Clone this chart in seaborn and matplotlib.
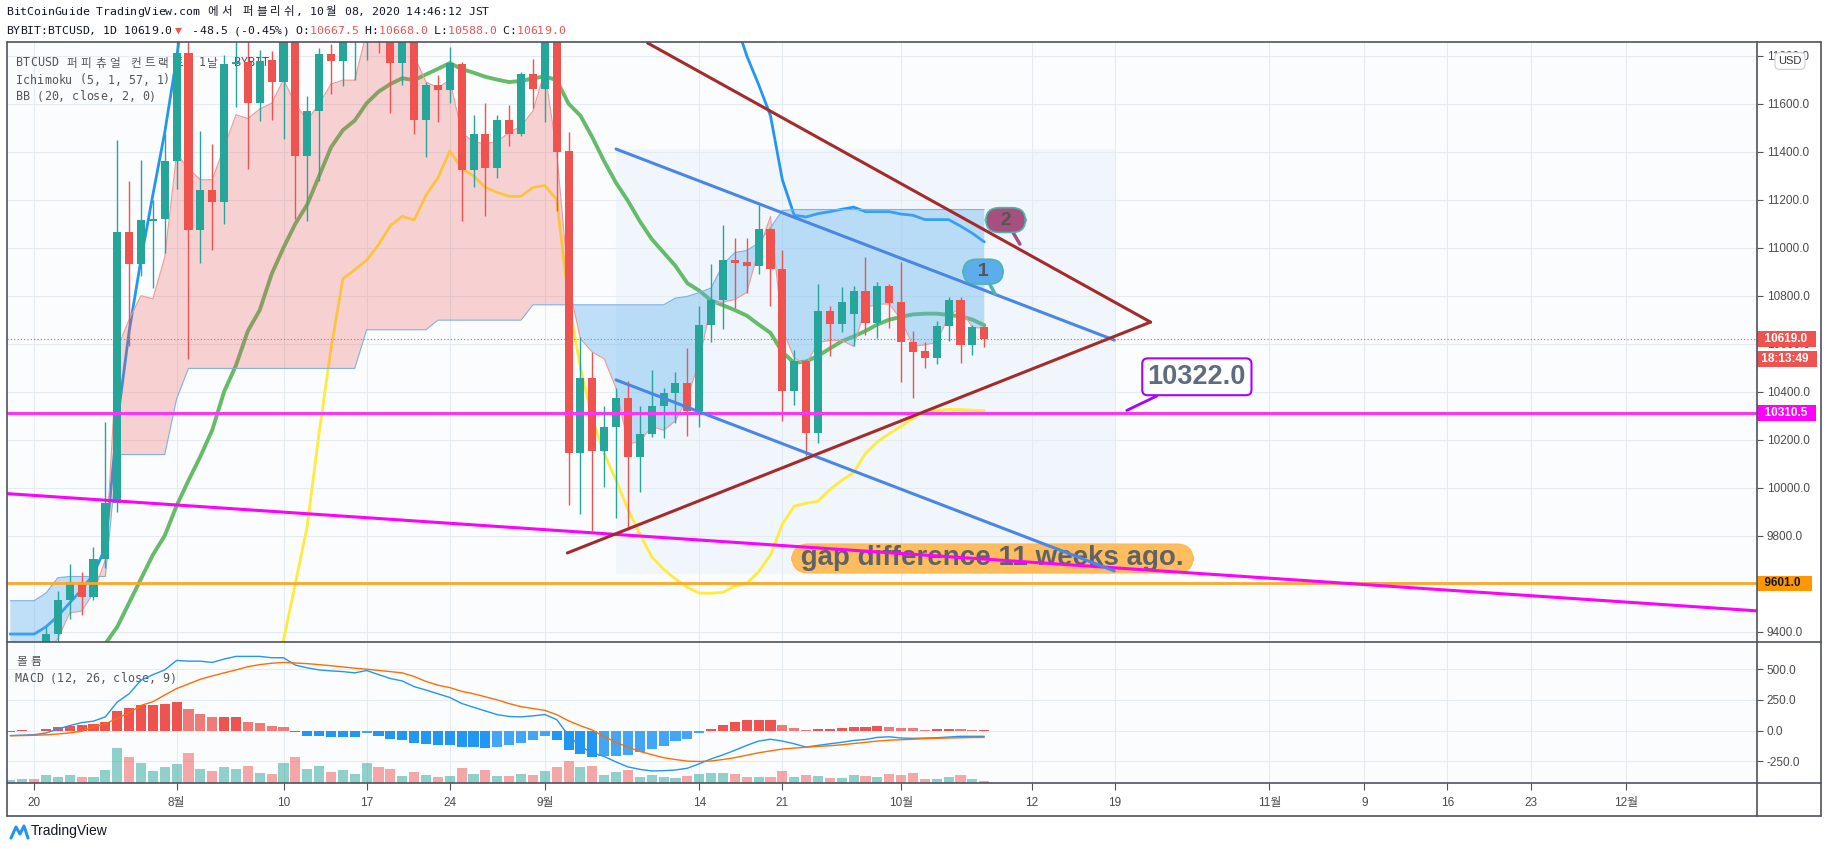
import matplotlib
matplotlib.use("Agg")
import matplotlib.pyplot as plt
from matplotlib.lines import Line2D
import numpy as np
import seaborn as sns

# ---------------- values (day 0 = 2020-07-20) ----------------
days = list(range(-2, 81))

opens = [9150, 9175, 9215, 9165, 9390, 9534, 9607, 9543, 9703, 9936, 11065, 10932,
         11110, 11120, 11363, 11810, 11072, 11240, 11192, 11765, 11775, 11602,
         11782, 11690, 11890, 11383, 11568, 11809, 11776, 11880, 11920, 12290,
         11960, 11770, 11870, 11533, 11677, 11658, 11765, 11323, 11473, 11332,
         11533, 11473, 11725, 11661, 11930, 11403, 10146, 10457, 10154, 10251,
         10372, 10127, 10223, 10341, 10393, 10438, 10321, 10677, 10781, 10948,
         10940, 10924, 11077, 10913, 10401, 10526, 10229, 10736, 10682, 10725,
         10821, 10688, 10840, 10773, 10608, 10569, 10541, 10672, 10784, 10596, 10667.5]
highs = [9190, 9240, 9230, 9420, 9570, 9684, 9648, 9752, 10274, 11447, 11278, 11367,
         11198, 11474, 12080, 12050, 11485, 11431, 11801, 11900, 11910, 11825,
         11820, 12080, 12050, 11631, 11833, 11849, 11980, 12000, 12460, 12400,
         12020, 11900, 11890, 11690, 11718, 11836, 11774, 11551, 11602, 11551,
         11594, 11733, 11788, 12080, 11950, 11482, 10629, 10565, 10342, 10414,
         10443, 10342, 10490, 10414, 10481, 10581, 10757, 10932, 11096, 11042,
         11042, 11176, 11080, 10991, 10573, 10530, 10848, 10757, 10837, 10841,
         10961, 10857, 10849, 10940, 10653, 10605, 10693, 10793, 10793, 10677, 10668]
lows = [9090, 9120, 9140, 9150, 9300, 9454, 9470, 9534, 9664, 9900, 10589, 10880,
        10832, 10977, 11246, 10537, 10937, 10991, 11100, 11586, 11328, 11527,
        11533, 11454, 11120, 11112, 11278, 11642, 11674, 11700, 11780, 11810,
        11562, 11677, 11473, 11379, 11525, 11602, 11112, 11254, 11131, 11291,
        11423, 11466, 11581, 11525, 11154, 9928, 9891, 9821, 10004, 9875,
        9832, 9983, 10213, 10207, 10270, 10215, 10251, 10608, 10661, 10749,
        10813, 10889, 10757, 10278, 10345, 10130, 10187, 10549, 10650, 10589,
        10637, 10624, 10664, 10441, 10374, 10497, 10516, 10613, 10521, 10554, 10588]
closes = [9175, 9215, 9165, 9390, 9534, 9607, 9543, 9703, 9936, 11065, 10932, 11115,
          11120, 11363, 11810, 11072, 11240, 11192, 11765, 11775, 11602, 11777,
          11690, 11890, 11383, 11568, 11809, 11776, 11880, 11920, 12290, 11960,
          11770, 11870, 11533, 11677, 11658, 11769, 11323, 11473, 11332, 11533,
          11473, 11725, 11661, 11930, 11399, 10146, 10457, 10154, 10251, 10372,
          10127, 10223, 10341, 10393, 10438, 10321, 10677, 10781, 10948, 10937,
          10924, 11077, 10913, 10401, 10526, 10229, 10736, 10682, 10773, 10821,
          10688, 10840, 10768, 10608, 10565, 10541, 10672, 10784, 10596, 10669, 10619]
volumes = [3.3, 4.3, 4.3, 8.3, 6.3, 8.3, 6.3, 6.3, 13.3, 35.3, 26.3, 20.3,
           12.3, 16.3, 19.3, 30.3, 14.3, 12.3, 16.3, 14.3, 17.3, 10.3,
           9.3, 20.3, 26.3, 14.3, 17.3, 11.3, 13.3, 9.3, 20.3, 16.3,
           14.3, 7.3, 11.3, 8.3, 6.3, 7.3, 15.3, 9.3, 13.3, 7.3,
           7, 9, 8, 12, 16, 22, 16, 17, 8, 11,
           13, 6, 8, 6, 5, 7, 9, 10, 10, 9,
           6, 6, 6, 12, 6, 8, 7, 5, 5, 8,
           7, 6, 9, 8, 10, 4, 4, 6, 8, 4, 2]

# Ichimoku leading spans
span_a = [9250, 9260, 9280, 9320, 9370, 9478, 9486, 9560, 9700, 10580, 10700, 10800,
          10787, 10960, 11390, 11330, 11283, 11283, 11420, 11554, 11538, 11578,
          11602, 11700, 11600, 11530, 11600, 11682, 11698, 11698, 11900, 12000,
          12000, 11950, 11800, 11690, 11666, 11700, 11480, 11440, 11434, 11442,
          11480, 11506, 11570, 11737, 11400, 10850, 10620, 10565, 10537, 10414,
          10183, 10191, 10255, 10239, 10278, 10374, 10526, 10765, 10773, 10784,
          10813, 10988, 11130, 10660, 10541, 10513, 10605, 10613, 10613, 10589,
          10749, 10765, 10765, 10701, 10589, 10595, 10605, 10717, 10749, 10666, 10666]
span_b = [9529, 9529, 9529, 9561, 9625, 9630, 9630, 9630, 9630, 10138, 10138, 10138,
          10138, 10138, 10370, 10497, 10497, 10497, 10497, 10497, 10497, 10497,
          10497, 10497, 10497, 10497, 10497, 10497, 10497, 10497, 10658, 10658,
          10658, 10658, 10658, 10658, 10698, 10698, 10698, 10698, 10698, 10698,
          10698, 10698, 10762, 10762, 10762, 10762, 10762, 10762, 10762, 10762,
          10762, 10762, 10762, 10762, 10790, 10797, 10813, 10832, 10930, 10980,
          10988, 11020, 11084, 11155, 11159, 11159, 11159, 11159, 11159, 11159,
          11159, 11159, 11159, 11159, 11159, 11159, 11159, 11159, 11159, 11159, 11159]

# Bollinger bands (20, 2)
bb_upper = [9390, 9390, 9390, 9420, 9465, 9520, 9575, 9640, 9750, 10270, 10650, 10950,
            11220, 11480, 11790, 12150, 12300, 12350, 12400, 12420, 12450, 12450,
            12440, 12430, 12400, 12380, 12380, 12360, 12330, 12320, 12400, 12450,
            12450, 12420, 12400, 12380, 12330, 12300, 12290, 12280, 12260, 12240,
            12220, 12230, 12240, 12280, 12270, 12350, 12380, 12390, 12350, 12320,
            12300, 12280, 12250, 12200, 12180, 12150, 12100, 12050, 12000, 11950,
            11800, 11680, 11550, 11283, 11135, 11128, 11142, 11150, 11160, 11169,
            11150, 11150, 11150, 11140, 11135, 11117, 11117, 11117, 11090, 11060, 11024]
bb_basis = [9050, 9080, 9110, 9140, 9180, 9220, 9260, 9290, 9350, 9420, 9520, 9620,
            9720, 9800, 9925, 10030, 10130, 10240, 10400, 10510, 10653, 10740,
            10890, 11000, 11100, 11180, 11299, 11418, 11490, 11530, 11602, 11650,
            11682, 11706, 11698, 11722, 11745, 11769, 11745, 11729, 11712, 11700,
            11690, 11695, 11705, 11714, 11698, 11600, 11550, 11460, 11360, 11270,
            11195, 11110, 11036, 10980, 10924, 10852, 10821, 10780, 10760, 10740,
            10717, 10680, 10645, 10565, 10520, 10526, 10549, 10580, 10610, 10630,
            10653, 10680, 10700, 10712, 10722, 10725, 10725, 10720, 10714, 10700, 10677]
bb_lower = [8850, 8840, 8830, 8800, 8780, 8760, 8740, 8720, 8700, 8650, 8600, 8580,
            8590, 8600, 8620, 8650, 8700, 8750, 8800, 8870, 8950, 9030,
            9120, 9365, 9601, 9840, 10230, 10580, 10870, 10908, 10948, 11012,
            11092, 11131, 11115, 11219, 11291, 11403, 11331, 11299, 11251, 11230,
            11214, 11214, 11251, 11259, 11200, 10781, 10500, 10286, 10143, 10031,
            9910, 9808, 9712, 9660, 9620, 9585, 9561, 9560, 9564, 9590,
            9601, 9649, 9720, 9848, 9923, 9935, 9944, 9992, 10030, 10063,
            10143, 10191, 10225, 10255, 10290, 10318, 10322, 10326, 10325, 10323, 10321]

# MACD (12, 26, 9)
macd_line = [-41, -37, -33, -19, 12, 41, 65, 77, 112, 232, 300, 410,
             455, 494, 571, 565, 565, 555, 582, 604, 604, 604,
             593, 593, 533, 511, 494, 486, 480, 470, 489, 456,
             424, 404, 358, 330, 300, 270, 221, 190, 160, 130,
             115, 112, 120, 131, 90, -40, -130, -180, -210, -255,
             -295, -315, -328, -326, -320, -306, -270, -230, -197, -160,
             -120, -85, -70, -85, -107, -134, -120, -107, -95, -80,
             -72, -55, -50, -60, -63, -60, -58, -52, -46, -46, -46]
macd_signal = [-41, -40, -38, -34, -28, -18, -6, 30, 55, 100, 145, 205,
               235, 290, 342, 380, 418, 445, 470, 494, 520, 537,
               548, 555, 550, 545, 537, 528, 518, 508, 500, 490,
               480, 470, 440, 400, 370, 350, 320, 300, 275, 250,
               220, 195, 180, 165, 130, 80, 40, 5, -50, -95,
               -135, -169, -195, -220, -235, -248, -251, -247, -235, -220,
               -200, -180, -165, -150, -142, -135, -128, -123, -115, -105,
               -95, -85, -78, -74, -70, -66, -63, -60, -58, -56, -55]
macd_hist = [-14, 3, -3, 11, 33, 41, 49, 57, 74, 158, 188, 205,
             205, 213, 230, 180, 139, 107, 107, 107, 74, 66,
             41, 33, -11, -41, -41, -49, -49, -49, -22, -41,
             -66, -74, -98, -107, -115, -115, -131, -131, -139, -131,
             -115, -98, -74, -46, -80, -156, -189, -216, -210, -205,
             -195, -172, -148, -123, -82, -66, -22, 14, 49, 68,
             84, 90, 90, 49, 22, 2, 14, 16, 25, 30,
             30, 38, 30, 22, 19, 8, 16, 16, 11, 8, 8]

# drawings on the chart
channel_days = [49.0, 90.95]
channel_upper = [11411, 10615]
channel_lower = [10449, 9653]
tri_upper_days = [51.65, 94.0]
tri_upper = [11853, 10690]
tri_lower_days = [44.9, 94.0]
tri_lower = [9728, 10690]
slope_days = [-2.2, 145.6]
slope_prices = [9975, 9485]
box_days = [49, 91]
box_low, box_high = 9640, 11411
level_magenta = 10310.5
level_orange = 9601.0
last_price = 10619.0

price_ticks = [9400, 9600, 9800, 10000, 10200, 10400, 10600, 10800, 11000, 11200, 11400, 11600, 11800]
macd_ticks = [-250, 0, 250, 500]
tick_days = [0, 12, 21, 28, 35, 43, 56, 63, 73, 84, 91, 104, 112, 119, 126, 134]
tick_labels = ['20', '8월', '10', '17', '24', '9월', '14', '21', '10월', '12', '19',
               '11월', '9', '16', '23', '12월']

# ---------------- style ----------------
sns.set_theme(style="white")
plt.rcParams['font.family'] = ['Liberation Sans', 'Noto Sans CJK KR', 'DejaVu Sans']
plt.rcParams['axes.unicode_minus'] = False
MONO = ['DejaVu Sans Mono', 'Noto Sans CJK KR']
UP, DOWN = '#26a69a', '#ef5350'
GRID = '#e4ecf2'
FRAME = '#50535e'
BG = '#fbfcfe'

W, H = 1828, 849
def fx(px): return px / W
def fy(py): return 1 - py / H

fig = plt.figure(figsize=(W / 100, H / 100), dpi=100, facecolor='white')
ax = fig.add_axes([fx(7), fy(642), fx(1757) - fx(7), fy(42) - fy(642)])
axm = fig.add_axes([fx(7), fy(783), fx(1757) - fx(7), fy(642) - fy(783)], sharex=ax)
axv = axm.twinx()


def mono_text(put, x0, y, segments, size, **kw):
    # monospace layout: latin = 1 cell, hangul = 2 cells
    cw = 0.602 * size * 100 / 72
    cell = 0
    for txt, col in segments:
        for ch in txt:
            wide = ord(ch) >= 0x1100
            if ch != ' ':
                if wide:
                    put(fx(x0 + (cell + 1) * cw), fy(y), ch, family=MONO, fontsize=size,
                        color=col, va='center', ha='center', **kw)
                else:
                    put(fx(x0 + cell * cw), fy(y), ch, family=MONO, fontsize=size,
                        color=col, va='center', ha='left', **kw)
            cell += 2 if wide else 1


d = np.array(days)
o = np.array(opens)
c = np.array(closes)
up = c >= o
cc = np.where(up, UP, DOWN)

# ---------------- main pane ----------------
ax.set_facecolor(BG)
ax.fill_between(box_days, box_low, box_high, color='#dcebf8', alpha=0.35, lw=0, zorder=0.5)

sns.lineplot(x=days, y=bb_upper, ax=ax, color='#2196f3', linewidth=2.0, zorder=2)
sns.lineplot(x=days, y=bb_basis, ax=ax, color='#66bb6a', linewidth=2.8, zorder=2)
sns.lineplot(x=days, y=bb_lower, ax=ax, color='#ffeb3b', linewidth=2.0, zorder=2)

a = np.array(span_a)
b = np.array(span_b)
ax.fill_between(d, a, b, where=a >= b, interpolate=True, color='#ef5350', alpha=0.25, lw=0, zorder=3)
ax.fill_between(d, a, b, where=a < b, interpolate=True, color='#5fb0f0', alpha=0.38, lw=0, zorder=3)
ax.plot(d, a, color='#ef9a9a', lw=0.8, zorder=3.1)
ax.plot(d, b, color='#7fb1e3', lw=0.8, zorder=3.1)

ax.vlines(d, lows, highs, color=cc, lw=1.0, zorder=3.9)
ax.bar(d, np.maximum(np.abs(c - o), 6), bottom=np.minimum(o, c), width=0.68,
       color=cc, lw=0, zorder=4)

ax.axhline(last_price, color='#ef5350', lw=0.8, ls=(0, (1, 2)), zorder=2.5)
ax.axhline(level_orange, color='#ffa726', lw=2.0, zorder=5)
ax.axhline(level_magenta, color='#ff33ff', lw=2.2, zorder=5)
ax.plot(slope_days, slope_prices, color='#ff00ff', lw=2.2, zorder=5)
ax.plot(channel_days, channel_upper, color='#4a86e8', lw=2.2, zorder=5)
ax.plot(channel_days, channel_lower, color='#4a86e8', lw=2.2, zorder=5)
ax.plot(tri_upper_days, tri_upper, color='#a52a2a', lw=2.2, zorder=5)
ax.plot(tri_lower_days, tri_lower, color='#a52a2a', lw=2.2, zorder=5)

ax.set_xlim(-2.28, 145.06)
ax.set_ylim(9357, 11857)
ax.set_xlabel('')
ax.set_ylabel('')
ax.yaxis.tick_right()
ax.set_yticks(price_ticks)
ax.set_yticklabels([f"{t:.1f}" for t in price_ticks])
ax.tick_params(axis='y', which='both', right=True, length=4, width=0.8, color=FRAME,
               labelsize=8.5, labelcolor='#4a4a4a', pad=3)
ax.tick_params(axis='x', length=0, labelbottom=False)
ax.grid(True, color=GRID, lw=0.8)
ax.set_axisbelow(True)
for s in ax.spines.values():
    s.set_visible(False)

# annotations
ax.annotate(' gap difference 11 weeks ago. ', xy=(80.7, 9705), ha='center', va='center',
            fontsize=20, fontweight='bold', color='#5f6368',
            bbox=dict(boxstyle='round,pad=0.05,rounding_size=0.6', fc='#ffb74d', ec='#ffb74d', alpha=0.9),
            zorder=4.5)
ax.annotate('10322.0', xy=(92.0, 10322), xytext=(97.9, 10462),
            ha='center', va='center', fontsize=19.5, fontweight='bold', color='#5d6d7e',
            bbox=dict(boxstyle='round,pad=0.2,rounding_size=0.2', fc='white', ec='#aa00ff', lw=1.5),
            arrowprops=dict(arrowstyle='-', color='#aa00ff', lw=2, shrinkA=0, shrinkB=0), zorder=7)
ax.annotate('  1  ', xy=(80.9, 10808), xytext=(79.9, 10900),
            ha='center', va='center', fontsize=14, fontweight='bold', color='#555555',
            bbox=dict(boxstyle='round,pad=0.2,rounding_size=0.7', fc='#5dadec', ec='#4db6ac', lw=1.2),
            arrowprops=dict(arrowstyle='-', color='#4db6ac', lw=2.5, shrinkA=0, shrinkB=0), zorder=6)
ax.annotate('  2  ', xy=(83.0, 11015), xytext=(81.8, 11115),
            ha='center', va='center', fontsize=14, fontweight='bold', color='#555555',
            bbox=dict(boxstyle='round,pad=0.2,rounding_size=0.7', fc='#a5507e', ec='#4db6ac', lw=1.2),
            arrowprops=dict(arrowstyle='-', color='#a5507e', lw=2.5, shrinkA=0, shrinkB=0), zorder=6)

def price_tag(axis, y, label, fc, tc, dy=0):
    axis.annotate(label, xy=(1.0, y), xycoords=('axes fraction', 'data'),
                  xytext=(1, dy), textcoords='offset points', ha='left', va='center',
                  fontsize=8.5, fontweight='bold', color=tc,
                  bbox=dict(boxstyle='square,pad=0.15', fc=fc, ec='none'),
                  annotation_clip=False, zorder=10)

price_tag(ax, last_price, '  10619.0  ', '#ef5350', 'white')
price_tag(ax, last_price, ' 18:13:49  ', '#ef5350', 'white', dy=-14.5)
price_tag(ax, level_magenta, '  10310.5  ', '#ff00ff', 'white')
price_tag(ax, level_orange, '  9601.0   ', '#ff9800', '#131722')

# ---------------- MACD / volume pane ----------------
axm.set_facecolor(BG)
hist_colors = []
for k, h in enumerate(macd_hist):
    prev = macd_hist[k - 1] if k else h
    if h >= 0:
        hist_colors.append('#ef5350' if h >= prev else '#f07a78')
    else:
        hist_colors.append('#2196f3' if h <= prev else '#42a5f5')
axm.bar(d, macd_hist, width=0.85, color=hist_colors, lw=0, zorder=3)
sns.lineplot(x=days, y=macd_line, ax=axm, color='#2196f3', linewidth=1.0, zorder=4)
sns.lineplot(x=days, y=macd_signal, ax=axm, color='#ff6d00', linewidth=1.0, zorder=4)
axm.set_ylim(-426, 721)
axm.set_xlabel('')
axm.set_ylabel('')

axv.bar(d, volumes, width=0.85, color=cc, alpha=0.5, lw=0)
axv.set_ylim(0, max(volumes) * 4.0)
axv.set_axis_off()

axm.yaxis.tick_right()
axm.set_yticks(macd_ticks)
axm.set_yticklabels([f"{t:.1f}" for t in macd_ticks])
axm.tick_params(axis='y', left=False, labelleft=False, right=True, labelright=True,
                length=4, width=0.8, color=FRAME, labelsize=8.5, labelcolor='#4a4a4a', pad=3)
axm.set_xticks(tick_days)
axm.set_xticklabels(tick_labels)
axm.tick_params(axis='x', bottom=True, direction='out', length=5, width=0.8, color=FRAME,
                labelsize=8.5, labelcolor='#4a4a4a', pad=5)
axm.grid(True, color=GRID, lw=0.8)
axm.set_axisbelow(True)
for s in axm.spines.values():
    s.set_visible(False)
axm.set_xlim(-2.28, 145.06)

# ---------------- texts ----------------
def in_main(x, y, s, **kw):
    ax.text(x, y, s, transform=fig.transFigure, zorder=1, **kw)

def in_macd(x, y, s, **kw):
    axm.text(x, y, s, transform=fig.transFigure, zorder=1, **kw)

mono_text(in_main, 16, 63, [('BTCUSD 퍼피츄얼 컨트랙트, 1날, BYBIT', '#555555')], 8.4)
mono_text(in_main, 16, 80, [('Ichimoku (5, 1, 57, 1)', '#555555')], 8.4)
mono_text(in_main, 16, 97, [('BB (20, close, 2, 0)', '#555555')], 8.4)
mono_text(in_macd, 15, 662, [('볼륨', '#555555')], 8.4)
mono_text(in_macd, 15, 679, [('MACD (12, 26, close, 9)', '#555555')], 8.4)

mono_text(fig.text, 6, 12, [('BitCoinGuide TradingView.com 에서 퍼블리쉬, 10월 08, 2020 14:46:12 JST',
                             '#131722')], 8.25)
mono_text(fig.text, 6, 31, [('BYBIT:BTCUSD, 1D 10619.0', '#131722'), ('▼', '#ef5350'),
                            (' -48.5 (-0.45%) O:', '#131722'), ('10667.5', '#ef5350'),
                            (' H:', '#131722'), ('10668.0', '#ef5350'), (' L:', '#131722'),
                            ('10588.0', '#ef5350'), (' C:', '#131722'), ('10619.0', '#ef5350')], 8.25)

fig.text(fx(1790), fy(61), 'USD', ha='center', va='center', fontsize=8, color='#333333',
         bbox=dict(boxstyle='round,pad=0.3,rounding_size=0.4', fc='white', ec='#c9cdd6', lw=0.8),
         zorder=20)

fig.add_artist(Line2D([fx(11), fx(16), fx(20), fx(24), fx(28)], [fy(838), fy(827), fy(834), fy(826), fy(838)],
                      color='#2196f3', lw=2.2, transform=fig.transFigure))
fig.text(fx(31), fy(831), 'TradingView', fontsize=10, color='#131722', va='center')

# ---------------- frame ----------------
for x0, y0, x1, y1 in [(7, 42, 1821, 42), (7, 816, 1821, 816), (7, 42, 7, 816),
                       (1821, 42, 1821, 816), (1757, 42, 1757, 816),
                       (7, 642, 1821, 642), (7, 783, 1821, 783)]:
    fig.add_artist(Line2D([fx(x0), fx(x1)], [fy(y0), fy(y1)], color=FRAME, lw=1.2,
                          transform=fig.transFigure, zorder=30))

fig.savefig('out.png', dpi=100, facecolor='white')
